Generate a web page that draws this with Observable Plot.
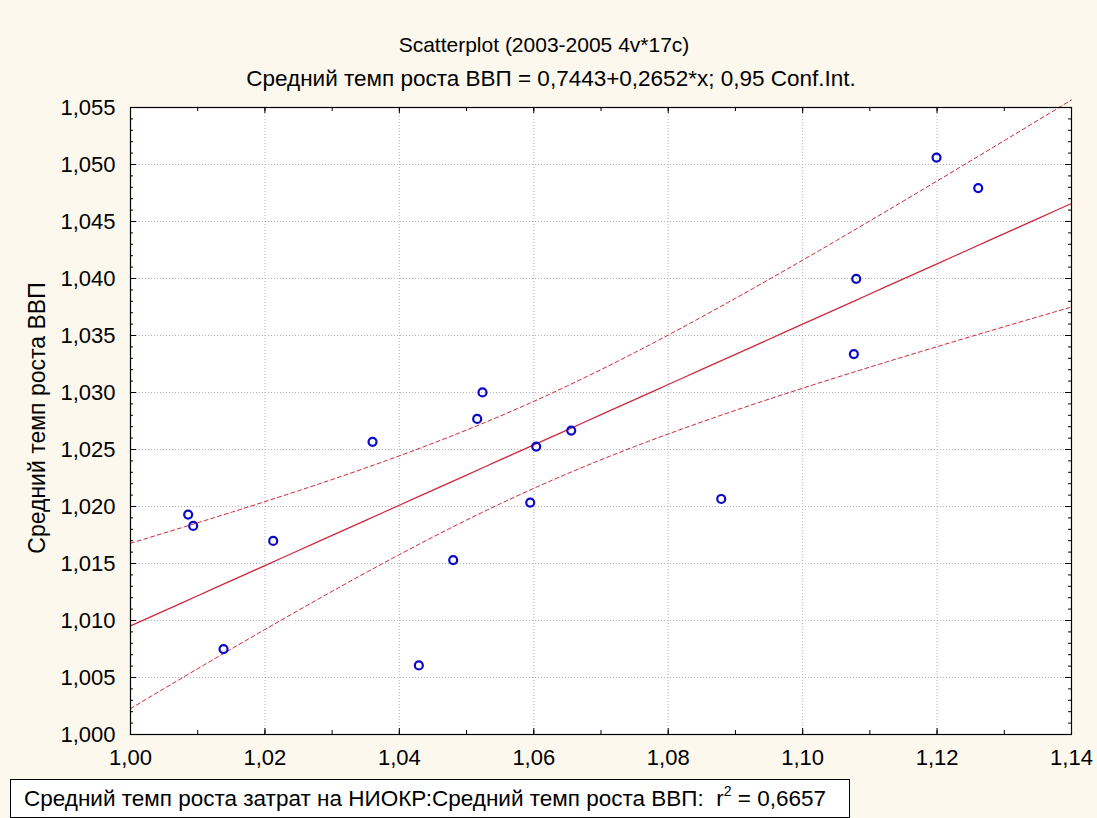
<!DOCTYPE html>
<html>
<head>
<meta charset="utf-8">
<script src="https://cdn.jsdelivr.net/npm/d3@7"></script>
<script src="https://cdn.jsdelivr.net/npm/@observablehq/plot@0.6"></script>
<style>
html, body { margin: 0; padding: 0; background: #fcf8ee; }
#wrap { position: relative; width: 1097px; height: 818px; overflow: hidden; font-family: "Liberation Sans", Arial, sans-serif; color: #000; }
#chart { position: absolute; left: 0; top: 0; }
.t { position: absolute; white-space: nowrap; line-height: 24px; }
#title { left: 544px; top: 33px; font-size: 21px; transform: translateX(-50%); }
#subtitle { left: 551px; top: 67px; font-size: 22.5px; transform: translateX(-50%); }
#ylabel { left: 37px; top: 418px; font-size: 23px; transform: translate(-50%, -50%) rotate(-90deg); }
#legend { position: absolute; left: 10px; top: 779px; width: 838px; height: 37px; border: 1px solid #000; background: #fff; box-sizing: content-box; }
#legend span { position: absolute; left: 13px; top: 7px; font-size: 22.5px; line-height: 24px; white-space: pre; }
#legend sup { font-size: 14px; vertical-align: 10px; line-height: 0; }
</style>
</head>
<body>
<div id="wrap">
  <div id="chart"></div>
  <div class="t" id="title"></div>
  <div class="t" id="subtitle"></div>
  <div class="t" id="ylabel"></div>
  <div id="legend"><span id="legendText"></span></div>
</div>
<script>
// ---- data ----
const xValues = [1.00858, 1.00933, 1.02123, 1.01384, 1.03601, 1.04801, 1.04290, 1.05158, 1.05237,
                 1.06036, 1.06557, 1.05947, 1.08789, 1.11992, 1.12612, 1.10797, 1.10762];
const yValues = [1.01929, 1.01830, 1.01698, 1.00749, 1.02567, 1.01530, 1.00606, 1.02768, 1.03001,
                 1.02526, 1.02666, 1.02034, 1.02066, 1.05061, 1.04793, 1.03997, 1.03337];

const xTicks = [1.00, 1.02, 1.04, 1.06, 1.08, 1.10, 1.12, 1.14];
const yTicks = [1.000, 1.005, 1.010, 1.015, 1.020, 1.025, 1.030, 1.035, 1.040, 1.045, 1.050, 1.055];

const titleText = "Scatterplot (2003-2005 4v*17c)";
const subtitleText = "Средний темп роста ВВП = 0,7443+0,2652*x; 0,95 Conf.Int.";
const yLabelText = "Средний темп роста ВВП";
const legendPrefix = "Средний темп роста затрат на НИОКР:Средний темп роста ВВП:  r";
const legendSuffix = " = 0,6657";

// ---- texts ----
document.getElementById("title").textContent = titleText;
document.getElementById("subtitle").textContent = subtitleText;
document.getElementById("ylabel").textContent = yLabelText;
const lt = document.getElementById("legendText");
lt.append(legendPrefix);
const sup = document.createElement("sup"); sup.textContent = "2"; lt.append(sup);
lt.append(legendSuffix);

// ---- regression with 95% confidence band ----
const points = xValues.map((x, i) => ({x, y: yValues[i]}));
const n = points.length;
const xbar = d3.mean(xValues), ybar = d3.mean(yValues);
const sxx = d3.sum(xValues, x => (x - xbar) ** 2);
const sxy = d3.sum(points, p => (p.x - xbar) * (p.y - ybar));
const slope = sxy / sxx, intercept = ybar - slope * xbar;
const sse = d3.sum(points, p => (p.y - (intercept + slope * p.x)) ** 2);
const s = Math.sqrt(sse / (n - 2));
const tCrit = 2.1314; // t(0.975, 15)
const xDomain = [1.00, 1.14], yDomain = [1.000, 1.055];
const evalX = d3.range(0, 57).map(i => xDomain[0] + i * (xDomain[1] - xDomain[0]) / 56);
const fit = evalX.map(x => {
  const yh = intercept + slope * x;
  const h = tCrit * s * Math.sqrt(1 / n + (x - xbar) ** 2 / sxx);
  return {x, y: yh, lo: yh - h, hi: yh + h};
});

const fmt2 = d => d.toFixed(2).replace(".", ",");
const fmt3 = d => d.toFixed(3).replace(".", ",");
const xMinor = d3.range(0, 15).map(i => xDomain[0] + i * 0.01);
const yMinor = d3.range(0, 56).map(i => yDomain[0] + i * 0.001);
const xGrid = xTicks.slice(1, -1), yGrid = yTicks.slice(1, -1);

const W = 1097, H = 775, mT = 107, mB = 41, mL = 130, mR = 26;
const pw = W - mL - mR, ph = H - mT - mB;
const red = "#d0283c", blue = "#0a0ac8";

const chart = Plot.plot({
  width: W, height: H,
  marginTop: mT, marginBottom: mB, marginLeft: mL, marginRight: mR,
  style: {background: "transparent", fontFamily: "Liberation Sans, Arial, sans-serif", fontSize: "22px", color: "#000", overflow: "visible"},
  x: {domain: xDomain, ticks: xTicks, tickFormat: fmt2, tickSize: 0, tickPadding: 15, label: null},
  y: {domain: yDomain, ticks: yTicks, tickFormat: fmt3, tickSize: 0, tickPadding: 15, label: null},
  marks: [
    Plot.frame({fill: "white"}),
    Plot.ruleX(xGrid, {x: d => d, stroke: "#b4b4b4", strokeDasharray: "1,2"}),
    Plot.ruleY(yGrid, {y: d => d, stroke: "#b4b4b4", strokeDasharray: "1,2"}),
    Plot.line(fit, {x: "x", y: "hi", stroke: red, strokeWidth: 1, strokeDasharray: "4,3"}),
    Plot.line(fit, {x: "x", y: "lo", stroke: red, strokeWidth: 1, strokeDasharray: "4,3"}),
    Plot.line(fit, {x: "x", y: "y", stroke: red, strokeWidth: 1.3}),
    Plot.dot(points, {x: "x", y: "y", r: 4, stroke: blue, strokeWidth: 2.2, fill: "none"}),
    // inward ticks
    Plot.ruleY(yMinor, {y: d => d, stroke: "#000", insetRight: pw - 3}),
    Plot.ruleY(yMinor, {y: d => d, stroke: "#000", insetLeft: pw - 3}),
    Plot.ruleY(yTicks, {y: d => d, stroke: "#000", insetRight: pw - 6}),
    Plot.ruleY(yTicks, {y: d => d, stroke: "#000", insetLeft: pw - 6}),
    Plot.ruleX(xMinor, {x: d => d, stroke: "#000", insetTop: ph - 4}),
    Plot.ruleX(xMinor, {x: d => d, stroke: "#000", insetBottom: ph - 4}),
    Plot.ruleX(xTicks, {x: d => d, stroke: "#000", insetTop: ph - 6}),
    Plot.ruleX(xTicks, {x: d => d, stroke: "#000", insetBottom: ph - 6}),
    Plot.frame({stroke: "#000", strokeWidth: 1.2})
  ]
});
document.getElementById("chart").append(chart);
</script>
</body>
</html>
